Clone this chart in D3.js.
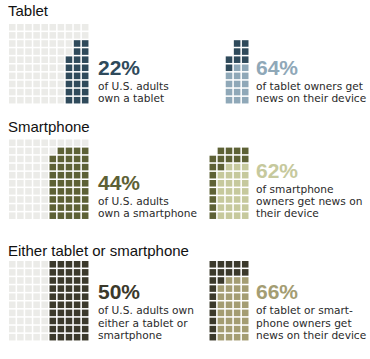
<!DOCTYPE html>
<html>
<head>
<meta charset="utf-8">
<script src="https://cdn.jsdelivr.net/npm/d3@7"></script>
<style>
body { margin: 0; background: #fff; }
text { font-family: "Liberation Sans", Arial, sans-serif; }
text.line { font-family: "DejaVu Sans", sans-serif; }
</style>
</head>
<body>
<div id="chart"></div>
<script>
// data
const titles = ['Tablet', 'Smartphone', 'Either tablet or smartphone'];
const ownPct = [22, 44, 50];
const newsPct = [64, 62, 66];
// filled squares per column, right-aligned in the 10x10 grid (sums = ownPct)
const ownCols = [[6, 8, 8], [8, 9, 9, 9, 9], [10, 10, 10, 10, 10]];
// squares of news readers per column, counted from the bottom
const newsCols = [[4, 5, 5], [0, 6, 7, 7, 7], [0, 7, 8, 8, 8]];
const ownText = [
    ['of U.S. adults', 'own a tablet'],
    ['of U.S. adults', 'own a smartphone'],
    ['of U.S. adults own', 'either a tablet or', 'smartphone']
];
const newsText = [
    ['of tablet owners get', 'news on their device'],
    ['of smartphone', 'owners get news on', 'their device'],
    ['of tablet or smart-', 'phone owners get', 'news on their device']
];
const darkColors = ['#2f4a5b', '#5d6135', '#3b392b'];
const lightColors = ['#8fa8b8', '#c6c99d', '#a49d73'];
const emptyColor = '#ebebe8';

const width = 370, height = 359;
const titleY = [15.5, 131.5, 255.5];
const gridTops = [24, 139.5, 261];
const step = 8.1, pad = 0.19;
const gridLen = step * (10 - pad);
const lineGap = 12.4;

const svg = d3.select('#chart').append('svg')
    .attr('width', width).attr('height', height);

titles.forEach((title, i) => {
    const g = svg.append('g').attr('class', 'section');

    g.append('text')
        .attr('x', 8).attr('y', titleY[i])
        .style('font-size', '15px').style('fill', '#111')
        .text(title);

    const gridTop = gridTops[i];
    const y = d3.scaleBand().domain(d3.range(10))
        .range([gridTop, gridTop + gridLen]).paddingInner(pad);

    // left grid: share of adults
    const cols = ownCols[i];
    const n = cols.length;
    const xL = d3.scaleBand().domain(d3.range(10))
        .range([9, 9 + gridLen]).paddingInner(pad);
    const cells = [];
    d3.range(10).forEach(c => d3.range(10).forEach(r => {
        const j = c - (10 - n);
        cells.push({ c: c, r: r, on: j >= 0 && r >= 10 - cols[j] });
    }));
    g.selectAll('.own-cell').data(cells).enter()
        .append('rect')
        .attr('class', 'own-cell')
        .attr('x', d => xL(d.c)).attr('y', d => y(d.r))
        .attr('width', xL.bandwidth()).attr('height', y.bandwidth())
        .style('fill', d => d.on ? darkColors[i] : emptyColor);

    // right grid: owners who get news
    const xRight = 248.5;
    const xR = d3.scaleBand().domain(d3.range(n))
        .range([xRight - step * (n - pad), xRight]).paddingInner(pad);
    const ncells = [];
    cols.forEach((h, j) => d3.range(10 - h, 10).forEach(r => {
        ncells.push({ c: j, r: r, light: r >= 10 - newsCols[i][j] });
    }));
    g.selectAll('.news-cell').data(ncells).enter()
        .append('rect')
        .attr('class', 'news-cell')
        .attr('x', d => xR(d.c)).attr('y', d => y(d.r))
        .attr('width', xR.bandwidth()).attr('height', y.bandwidth())
        .style('fill', d => d.light ? lightColors[i] : darkColors[i]);

    // labels
    const lastBase = gridTop + gridLen - 1.5;
    function label(x, pct, lines, color) {
        const first = lastBase - lineGap * (lines.length - 1);
        g.append('text')
            .attr('class', 'pct')
            .attr('x', x).attr('y', first - 15)
            .style('font-size', '21px').style('font-weight', 'bold')
            .style('fill', color)
            .text(pct + '%');
        g.selectAll(null).data(lines).enter()
            .append('text')
            .attr('class', 'line')
            .attr('x', x).attr('y', (d, k) => first + lineGap * k)
            .style('font-size', '10.6px').style('fill', '#2a2a2a')
            .text(d => d);
    }
    label(98, ownPct[i], ownText[i], darkColors[i]);
    label(256, newsPct[i], newsText[i], lightColors[i]);
});
</script>
</body>
</html>
